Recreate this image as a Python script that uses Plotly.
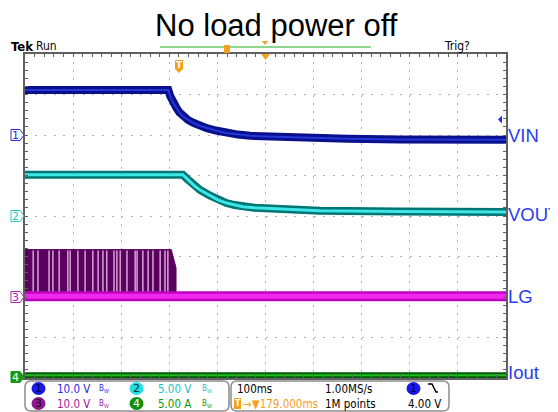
import plotly.graph_objects as go

# Horizontal: 100 ms/div, trigger at t = 0, screen centre at +179 ms
t_range = [-321, 679]
t_center = 179

# Channel 1 - VIN (10 V/div, ground marker 2 div above centre)
vin_t = [-321, -23, -19, -16, -11, -6, 0, 8, 18, 29, 42, 57, 76, 98, 122, 147, 181, 251, 350, 459, 679]
vin_v = [11.1, 11.1, 9.6, 8.6, 7.6, 6.7, 5.6, 4.5, 3.7, 3.0, 2.3, 1.7, 1.1, 0.5, 0.1, -0.2, -0.4, -0.7, -0.95, -1.1, -1.2]

# Channel 2 - VOUT (5 V/div, ground at centre)
vout_t = [-321, 7, 14, 22, 32, 43, 64, 80, 98, 115, 132, 155, 178, 236, 292, 459, 679]
vout_v = [5.1, 5.1, 4.7, 4.2, 3.7, 3.2, 2.5, 2.0, 1.6, 1.35, 1.15, 1.03, 0.95, 0.76, 0.64, 0.55, 0.5]

# Channel 3 - LG gate drive (10 V/div, ground 2 div below centre)
lg_t = [-321, 679]
lg_v = [0.2, 0.2]
lg_burst_t = [-321, -321, -17, -12, -7, -7]
lg_burst_v = [0, 11.7, 11.7, 9.5, 7.2, 0]
# lighter streaks inside the switching burst
lg_gap_t = [-304, -294, -271, -263, -250, -232, -227, -211, -196, -180, -169, -159,
            -151, -136, -130, -123, -109, -92, -88, -76, -65, -55, -40, -30, -24]
lg_gap_top = 11.5

# Channel 4 - Iout (5 A/div, ground 4 div below centre)
iout_t = [-321, 679]
iout_v = [0.35, 0.35]

# right-hand labels
labels = ["VIN", "VOUT", "LG", "Iout"]

# plot area in screen pixels (page has an 8 px body margin)
OFF = 8
L, R, T, B = 25, 506, 54, 378


def px(x):
    return (x - L) / (R - L)


def py(y):
    return (B - y) / (B - T)


def path(points, close=False):
    s = "M" + " L".join(f"{px(x):.5f},{py(y):.5f}" for x, y in points)
    return s + (" Z" if close else "")


def rrect(x0, y0, x1, y1, r):
    s = f"M{px(x0 + r):.5f},{py(y0):.5f} L{px(x1 - r):.5f},{py(y0):.5f}"
    s += f" Q{px(x1):.5f},{py(y0):.5f} {px(x1):.5f},{py(y0 + r):.5f}"
    s += f" L{px(x1):.5f},{py(y1 - r):.5f}"
    s += f" Q{px(x1):.5f},{py(y1):.5f} {px(x1 - r):.5f},{py(y1):.5f}"
    s += f" L{px(x0 + r):.5f},{py(y1):.5f}"
    s += f" Q{px(x0):.5f},{py(y1):.5f} {px(x0):.5f},{py(y1 - r):.5f}"
    s += f" L{px(x0):.5f},{py(y0 + r):.5f}"
    s += f" Q{px(x0):.5f},{py(y0):.5f} {px(x0 + r):.5f},{py(y0):.5f} Z"
    return s


fig = go.Figure()

# LG burst (dark persistence) + light streaks
fig.add_trace(go.Scatter(x=lg_burst_t, y=lg_burst_v, yaxis="y3", mode="lines",
                         fill="toself", fillcolor="#5a005e", line=dict(color="#5a005e", width=1)))
gx, gy = [], []
for t in lg_gap_t:
    gx += [t, t, None]
    gy += [0, lg_gap_top, None]
fig.add_trace(go.Scatter(x=gx, y=gy, yaxis="y3", mode="lines",
                         line=dict(color="#cf98cf", width=1.6)))
fig.add_trace(go.Scatter(x=lg_t, y=lg_v, yaxis="y3", mode="lines",
                         line=dict(color="#c000c0", width=10)))
fig.add_trace(go.Scatter(x=lg_t, y=lg_v, yaxis="y3", mode="lines",
                         line=dict(color="#f028f0", width=5)))

# VIN
fig.add_trace(go.Scatter(x=vin_t, y=vin_v, yaxis="y2", mode="lines",
                         line=dict(color="#0a0f8c", width=8)))
fig.add_trace(go.Scatter(x=vin_t, y=vin_v, yaxis="y2", mode="lines",
                         line=dict(color="#2438d8", width=2)))

# VOUT
fig.add_trace(go.Scatter(x=vout_t, y=vout_v, mode="lines",
                         line=dict(color="#007575", width=8)))
fig.add_trace(go.Scatter(x=vout_t, y=vout_v, mode="lines",
                         line=dict(color="#3ee6e6", width=3)))

# Iout
fig.add_trace(go.Scatter(x=iout_t, y=iout_v, yaxis="y4", mode="lines",
                         line=dict(color="#005c00", width=6)))
fig.add_trace(go.Scatter(x=iout_t, y=iout_v, yaxis="y4", mode="lines",
                         line=dict(color="#22b822", width=2)))

grid = "#b0b0b0"
frame = "#606060"
panel_font = "DejaVu Sans Condensed, DejaVu Sans"

fig.update_layout(
    width=558 - OFF, height=412 - OFF,
    margin=dict(l=L - OFF, r=558 - R, t=T - OFF, b=412 - B),
    paper_bgcolor="white", plot_bgcolor="white",
    showlegend=False,
    font=dict(family=panel_font, size=12, color="black"),
    xaxis=dict(range=t_range, tick0=t_center, dtick=100, showgrid=True, gridcolor=grid,
               griddash="2px,6.1px", gridwidth=1, zeroline=False, showticklabels=False,
               showline=True, linecolor=frame, linewidth=1.5, mirror="ticks",
               ticks="inside", ticklen=3, tickcolor=frame,
               minor=dict(tick0=t_center, dtick=20, ticks="inside", ticklen=3,
                          tickcolor=frame, showgrid=False)),
    yaxis=dict(range=[-20, 20], tick0=0, dtick=5, showgrid=True, gridcolor=grid,
               griddash="2px,7.62px", gridwidth=1, zeroline=False, showticklabels=False,
               showline=True, linecolor=frame, linewidth=1.5, mirror="ticks",
               ticks="inside", ticklen=3, tickcolor=frame,
               minor=dict(tick0=0, dtick=1, ticks="inside", ticklen=3,
                          tickcolor=frame, showgrid=False)),
    yaxis2=dict(range=[-60, 20], overlaying="y", visible=False),
    yaxis3=dict(range=[-20, 60], overlaying="y", visible=False),
    yaxis4=dict(range=[0, 40], overlaying="y", visible=False),
    # centre cross-hair with sub-division ticks
    xaxis2=dict(range=t_range, overlaying="x", anchor="free", position=0.5,
                showline=True, linecolor="#909090", linewidth=1.5, showgrid=False,
                zeroline=False, showticklabels=False, tick0=t_center, dtick=20,
                ticks="outside", ticklen=3, tickcolor="#808080"),
    xaxis3=dict(range=t_range, overlaying="x", anchor="free", position=0.5,
                showline=False, showgrid=False, zeroline=False, showticklabels=False,
                tick0=t_center, dtick=20, ticks="inside", ticklen=3, tickcolor="#808080"),
    yaxis5=dict(range=[-20, 20], overlaying="y", anchor="free", position=0.5,
                showline=True, linecolor="#909090", linewidth=1.5, showgrid=False,
                zeroline=False, showticklabels=False, tick0=0, dtick=1,
                ticks="outside", ticklen=3, tickcolor="#808080"),
    yaxis6=dict(range=[-20, 20], overlaying="y", anchor="free", position=0.5,
                showline=False, showgrid=False, zeroline=False, showticklabels=False,
                tick0=0, dtick=1, ticks="inside", ticklen=3, tickcolor="#808080"),
)

ann = []
shapes = []


def text(x, y, s, size=12, color="black", xanchor="left", family=None, **kw):
    f = dict(size=size, color=color)
    if family:
        f["family"] = family
    ann.append(dict(x=px(x), y=py(y), xref="paper", yref="paper", text=s, showarrow=False,
                    xanchor=xanchor, yanchor="middle", font=f, **kw))


# title
text(276, 25, "No load power off", size=31, xanchor="center", family="Liberation Sans, Arial")

# header
text(9, 47, "<b>Tek</b>", size=13, family=panel_font)
text(34, 46, "Run", size=12)
text(442, 46, "Trig?", size=12)

# record view bar
shapes.append(dict(type="line", xref="paper", yref="paper", x0=px(160), x1=px(371),
                   y0=py(47), y1=py(47), line=dict(color="#8fd68f", width=2)))
orange = "#f5a01a"
shapes.append(dict(type="rect", xref="paper", yref="paper", x0=px(224), x1=px(230),
                   y0=py(45), y1=py(53), fillcolor=orange, line=dict(width=0)))
shapes.append(dict(type="path", xref="paper", yref="paper",
                   path=path([(262, 41), (268, 41), (265, 45)], True),
                   fillcolor=orange, line=dict(width=0)))
shapes.append(dict(type="path", xref="paper", yref="paper",
                   path=path([(261, 54), (270, 54), (265.5, 60)], True),
                   fillcolor=orange, line=dict(width=0)))
# trigger position marker
shapes.append(dict(type="path", xref="paper", yref="paper",
                   path=path([(175, 60), (183, 60), (183, 69), (179, 73), (175, 69)], True),
                   fillcolor=orange, line=dict(width=0)))
text(179, 65, "<b>T</b>", size=9, color="white", xanchor="center", family="DejaVu Sans")

# trigger level arrow (ch1)
shapes.append(dict(type="path", xref="paper", yref="paper",
                   path=path([(498, 119.5), (502, 115.5), (502, 123.5)], True),
                   fillcolor="#2030e0", line=dict(width=0)))

# channel ground markers
chan = [(135, "1", "white", "#2a2ae0", "#2a2ae0"),
        (216, "2", "white", "#20c8c8", "#20c8c8"),
        (297, "3", "white", "#b020b0", "#b020b0"),
        (377, "4", "#139a13", "#139a13", "white")]
for y, n, fill, edge, tc in chan:
    shapes.append(dict(type="path", xref="paper", yref="paper",
                       path=path([(11, y - 5.5), (20, y - 5.5), (24, y), (20, y + 5.5), (11, y + 5.5)], True),
                       fillcolor=fill, line=dict(color=edge, width=1)))
    text(15.5, y, n, size=11, color=tc, xanchor="center", family="DejaVu Sans")

# right-hand labels
label_y = [135, 214, 296, 372]
for s, y in zip(labels, label_y):
    text(506, y, s, size=18.5, color="#2a3cf0", family="Liberation Sans, Arial")

# bottom status boxes
for x0, x1 in [(25, 229), (231, 449)]:
    shapes.append(dict(type="path", xref="paper", yref="paper", path=rrect(x0, 381, x1, 411, 6),
                       line=dict(color="#8c8c8c", width=1.5)))

rows = [388.5, 403.5]
circ = [(38.5, rows[0], "#1818e8", "1", "#000050"),
        (38.5, rows[1], "#8e1a8e", "3", "#200020"),
        (136.5, rows[0], "#22dede", "2", "#003030"),
        (136.5, rows[1], "#108e10", "4", "white"),
        (413.5, rows[0], "#1818e8", "1", "#000050")]
for cx, cy, col, n, tc in circ:
    shapes.append(dict(type="circle", xref="paper", yref="paper",
                       x0=px(cx - 7), x1=px(cx + 7), y0=py(cy - 6.5), y1=py(cy + 6.5),
                       fillcolor=col, line=dict(width=0)))
    text(cx, cy, n, size=11, color=tc, xanchor="center", family="DejaVu Sans")

ps = 11.5
text(55, rows[0], "10.0 V", size=ps, color="#2a2ae0")
text(55, rows[1], "10.0 V", size=ps, color="#a020a0")
text(156, rows[0], "5.00 V", size=ps, color="#20c4c4")
text(156, rows[1], "5.00 A", size=ps, color="#119911")
for x, y, c in [(104, rows[0], "#2a2ae0"), (104, rows[1], "#a020a0"),
                (207, rows[0], "#20c4c4"), (207, rows[1], "#119911")]:
    text(x, y, "B<sub>W</sub>", size=8, color=c, xanchor="center")

text(235, rows[0], "100ms", size=ps)
text(323, rows[0], "1.00MS/s", size=ps)
text(323, rows[1], "1M points", size=ps)
text(443, rows[1], "4.00 V", size=ps, xanchor="right")
shapes.append(dict(type="rect", xref="paper", yref="paper", x0=px(234), x1=px(241),
                   y0=py(398), y1=py(409), fillcolor=orange, line=dict(width=0)))
text(237.5, rows[1], "<b>T</b>", size=8, color="white", xanchor="center", family="DejaVu Sans")
text(241, rows[1], "\u2192\u25bc179.000ms", size=ps, color=orange)
# falling-edge slope symbol
shapes.append(dict(type="path", xref="paper", yref="paper",
                   path=path([(428, 384), (432, 384), (436, 392), (438, 392)]),
                   line=dict(color="black", width=1.5)))

fig.update_layout(annotations=ann, shapes=shapes)

fig.write_html("out.html")
